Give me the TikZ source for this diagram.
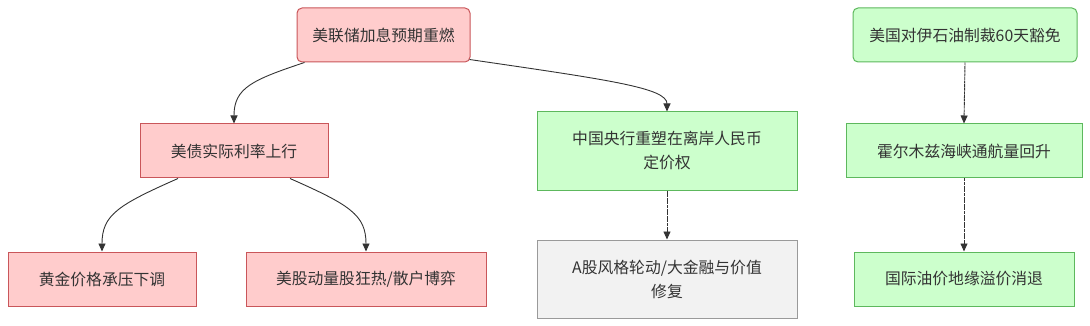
\documentclass[tikz,border=0pt]{standalone}
\usepackage{fontspec}
\setmainfont{Noto Sans CJK SC}
\usetikzlibrary{arrows.meta}
\definecolor{pinkfill}{HTML}{FFCCCC}
\definecolor{pinkdraw}{HTML}{C9565A}
\definecolor{greenfill}{HTML}{CCFFCC}
\definecolor{greendraw}{HTML}{5DB85D}
\definecolor{grayfill}{HTML}{F2F2F2}
\definecolor{graydraw}{HTML}{9A9A9A}
\definecolor{txt}{HTML}{333333}
\definecolor{edge}{HTML}{333333}
\tikzset{
  base/.style={draw, line width=1pt, text=txt, font=\fontsize{15.8}{24}\selectfont, align=center, inner sep=0pt},
  pinkbox/.style={base, fill=pinkfill, draw=pinkdraw},
  greenbox/.style={base, fill=greenfill, draw=greendraw},
  graybox/.style={base, fill=grayfill, draw=graydraw},
  conn/.style={draw=edge, line width=0.9pt, -{Triangle[length=8pt,width=7pt]}},
  dconn/.style={conn, dash pattern=on 3pt off 0.6pt},
}
\begin{document}
\begin{tikzpicture}[x=1pt,y=-1pt]
\useasboundingbox (0,0) rectangle (1090,326);
\node[pinkbox, rounded corners=5pt, minimum width=173pt, minimum height=54pt] (A) at (383.5,35) {美联储加息预期重燃};
\node[pinkbox, minimum width=188pt, minimum height=54pt] (B) at (234,151) {美债实际利率上行};
\node[pinkbox, minimum width=188pt, minimum height=54pt] (C) at (102,279) {黄金价格承压下调};
\node[pinkbox, minimum width=240pt, minimum height=54pt] (D) at (366,279) {美股动量股狂热/散户博弈};
\node[greenbox, minimum width=260pt, minimum height=78pt] (E) at (667,151) {中国央行重塑在离岸人民币\\定价权};
\node[graybox, minimum width=260pt, minimum height=78pt] (F) at (667,279) {A股风格轮动/大金融与价值\\修复};
\node[greenbox, rounded corners=5pt, minimum width=224pt, minimum height=54pt] (G) at (965,35) {美国对伊石油制裁60天豁免};
\node[greenbox, minimum width=236pt, minimum height=54pt] (H) at (964,151) {霍尔木兹海峡通航量回升};
\node[greenbox, minimum width=220pt, minimum height=54pt] (I) at (964,279) {国际油价地缘溢价消退};

\draw[conn] ([xshift=8pt]A.south west) .. controls (252,80) and (234,88) .. (B.north);
\draw[conn] ([xshift=-1pt,yshift=3pt]A.south east) .. controls (610,80) and (667,88) .. (E.north);
\draw[conn] ([xshift=-56pt]B.south) .. controls (118,205) and (102,215) .. (C.north);
\draw[conn] ([xshift=56pt]B.south) .. controls (350,205) and (366,215) .. (D.north);
\draw[dconn] (E.south) -- (F.north);
\draw[dconn] (G.south) -- (H.north);
\draw[dconn] (H.south) -- (I.north);
\end{tikzpicture}
\end{document}
